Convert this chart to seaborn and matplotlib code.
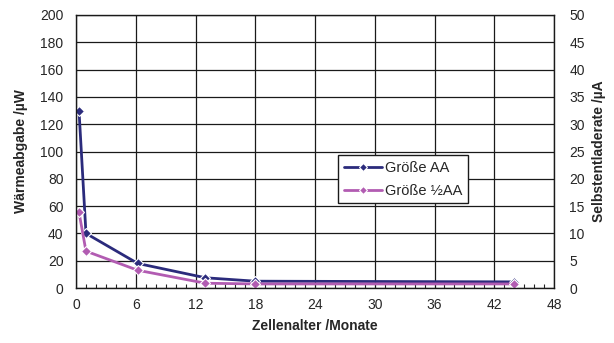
import matplotlib
matplotlib.use("Agg")
import matplotlib.pyplot as plt
import seaborn as sns
import pandas as pd
from matplotlib.ticker import MultipleLocator

months = [0.3, 1, 6.2, 13, 18, 44]
aa_values = [130, 40, 18, 7.5, 5, 4.5]
half_aa_values = [55.5, 27, 13, 3.5, 3, 3]
series_names = ["Größe AA", "Größe ½AA"]
colors = ["#2B2B7C", "#B25CB2"]

df = pd.concat([
    pd.DataFrame({"Monate": months, "Wert": aa_values, "Serie": series_names[0]}),
    pd.DataFrame({"Monate": months, "Wert": half_aa_values, "Serie": series_names[1]}),
])

sns.set_style("white")
plt.rcParams["font.family"] = ["Liberation Sans", "DejaVu Sans"]

fig = plt.figure(figsize=(6.14, 3.43), dpi=100)
ax = fig.add_axes([0.1238, 0.1603, 0.7785, 0.796])

sns.lineplot(data=df, x="Monate", y="Wert", hue="Serie", palette=colors,
             marker="D", markersize=5.5, markeredgecolor="white", markeredgewidth=0.8,
             linewidth=2, ax=ax, legend=True, sort=False)

ax.set_xlim(0, 48)
ax.set_ylim(0, 200)
ax.xaxis.set_major_locator(MultipleLocator(6))
ax.xaxis.set_minor_locator(MultipleLocator(1))
ax.yaxis.set_major_locator(MultipleLocator(20))
ax.grid(True, which="major", color="#1a1a1a", linewidth=0.9)
ax.set_axisbelow(True)
for s in ax.spines.values():
    s.set_color("#1a1a1a")
    s.set_linewidth(1.0)
ax.tick_params(axis="x", which="minor", direction="in", length=3, bottom=True, width=0.8)
ax.tick_params(axis="x", which="major", direction="in", length=0, labelsize=10, pad=7)
ax.tick_params(axis="y", which="major", direction="in", length=0, labelsize=10, pad=9)

ax.set_xlabel("Zellenalter /Monate", fontsize=10, fontweight="bold", labelpad=5)
ax.set_ylabel("Wärmeabgabe /µW", fontsize=10, fontweight="bold", labelpad=9)

ax2 = ax.twinx()
ax2.set_ylim(0, 50)
ax2.yaxis.set_major_locator(MultipleLocator(5))
ax2.tick_params(axis="y", direction="in", length=0, labelsize=10, pad=11)
ax2.set_ylabel("Selbstentladerate /µA", fontsize=10, fontweight="bold", labelpad=5)
for s in ax2.spines.values():
    s.set_visible(False)

handles, labels = ax.get_legend_handles_labels()
for h in handles:
    h.set_markersize(4.5)
leg = ax.legend(handles, labels, loc="upper left", bbox_to_anchor=(0.548, 0.487),
                borderaxespad=0, fontsize=10.5,
                frameon=True, fancybox=False, edgecolor="#1a1a1a", framealpha=1,
                borderpad=0.4, handlelength=2.6, labelspacing=0.6, handletextpad=0.2)
leg.get_frame().set_linewidth(1.0)

fig.savefig("out.png", dpi=100)
